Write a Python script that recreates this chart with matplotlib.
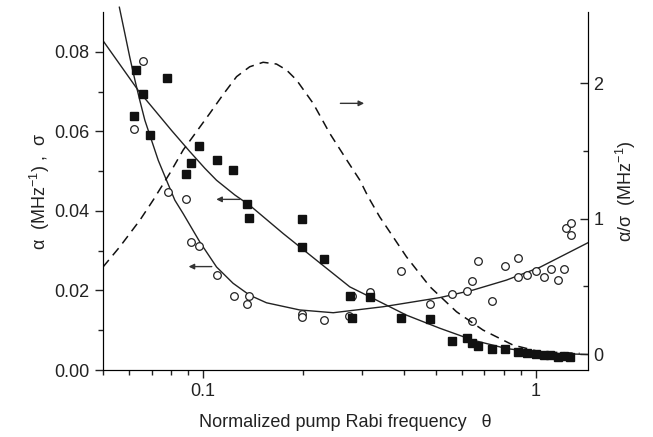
import numpy as np
import matplotlib
matplotlib.use("Agg")
import matplotlib.pyplot as plt
from matplotlib.ticker import NullFormatter

plt.rcParams["font.family"] = ["Liberation Sans", "DejaVu Sans"]
plt.rcParams["mathtext.fontset"] = "custom"
plt.rcParams["mathtext.rm"] = "Liberation Sans"
plt.rcParams["mathtext.it"] = "Liberation Sans:italic"

# sigma (open circles), left axis
theta_sig = [0.0660, 0.0627, 0.0618, 0.0660, 0.0691, 0.0782, 0.0887, 0.0917, 0.0971,
             0.1101, 0.1234, 0.1372, 0.1353, 0.1979, 0.1979, 0.2309, 0.2739, 0.280,
             0.318, 0.394, 0.482, 0.558, 0.621, 0.644, 0.644, 0.670, 0.738, 0.805,
             0.881, 0.881, 0.942, 1.002, 1.054, 1.112, 1.164, 1.213, 1.228, 1.271, 1.271]
sig = [0.0776, 0.0753, 0.0605, 0.0693, 0.0592, 0.0448, 0.0430, 0.0322, 0.0311,
       0.0240, 0.0187, 0.0187, 0.0166, 0.0142, 0.0134, 0.0126, 0.0136, 0.0186,
       0.0195, 0.0250, 0.0166, 0.0190, 0.0199, 0.0224, 0.0122, 0.0274, 0.0173, 0.0261,
       0.0282, 0.0233, 0.0238, 0.0248, 0.0234, 0.0253, 0.0226, 0.0253, 0.0357, 0.0370, 0.0339]

# alpha (filled squares), left axis
theta_alp = [0.0627, 0.0780, 0.0660, 0.0618, 0.0691, 0.0971, 0.0917, 0.1101, 0.0885,
             0.123, 0.1353, 0.1372, 0.1979, 0.1979, 0.2309, 0.2758, 0.280, 0.318,
             0.394, 0.482, 0.558, 0.621, 0.644, 0.669, 0.738, 0.805, 0.881, 0.942,
             1.002, 1.054, 1.099, 1.164, 1.213, 1.262]
alp = [0.0753, 0.0735, 0.0693, 0.0639, 0.0592, 0.0562, 0.0520, 0.0527, 0.0494,
       0.0502, 0.0417, 0.0381, 0.0379, 0.0308, 0.0278, 0.0186, 0.0130, 0.0184,
       0.0131, 0.0129, 0.0072, 0.0081, 0.0067, 0.0061, 0.0052, 0.0052, 0.0046, 0.0043,
       0.0040, 0.0038, 0.0038, 0.0033, 0.0035, 0.0032]

# fitted curves
fit_sig_x = [0.0560, 0.0582, 0.0602, 0.0624, 0.0645, 0.0668, 0.0700, 0.0733, 0.0776,
             0.0822, 0.0871, 0.0977, 0.1097, 0.123, 0.138, 0.155, 0.195, 0.246,
             0.2573, 0.347, 0.514, 0.647, 0.815, 1.026, 1.433]
fit_sig_y = [0.0912, 0.0845, 0.0786, 0.0728, 0.0678, 0.0628, 0.0577, 0.0527, 0.0477,
             0.0427, 0.0393, 0.0322, 0.0259, 0.0218, 0.0188, 0.0169, 0.0151, 0.0144,
             0.0146, 0.0159, 0.0182, 0.0201, 0.0226, 0.0258, 0.0320]
fit_alp_x = [0.0501, 0.0638, 0.0804, 0.0910, 0.1012, 0.1097, 0.1245, 0.138, 0.174,
             0.219, 0.2758, 0.324, 0.408, 0.514, 0.647, 0.815, 1.026, 1.433]
fit_alp_y = [0.0827, 0.0703, 0.0602, 0.0550, 0.0507, 0.0477, 0.0440, 0.0414, 0.0343,
             0.0276, 0.0209, 0.0180, 0.0138, 0.0105, 0.0075, 0.0054, 0.0043, 0.0039]

# ratio alpha/sigma, right axis
ratio_x = [0.050, 0.0562, 0.0646, 0.0708, 0.0794, 0.0871, 0.0955, 0.1047, 0.1148,
           0.126, 0.138, 0.1514, 0.1661, 0.178, 0.1908, 0.214, 0.240, 0.270, 0.2955,
           0.313, 0.339, 0.408, 0.480, 0.577, 0.693, 0.853, 1.026, 1.352]
ratio_y = [0.642, 0.792, 0.989, 1.137, 1.334, 1.506, 1.641, 1.776, 1.915,
           2.047, 2.120, 2.153, 2.140, 2.096, 2.022, 1.850, 1.629, 1.432, 1.284,
           1.161, 1.013, 0.718, 0.497, 0.312, 0.177, 0.066, 0.017, 0.005]

fig = plt.figure(figsize=(6.53, 4.37), dpi=100)
ax = fig.add_axes([0.1577, 0.1533, 0.7432, 0.8192])
ax2 = ax.twinx()
ax.set_xscale("log")
ax.set_xlim(0.05, 1.436)
ax.set_ylim(0, 0.09)

ax.plot(fit_sig_x, fit_sig_y, "-", color="#222222", lw=1.0, clip_on=False)
ax.plot(fit_alp_x, fit_alp_y, "-", color="#222222", lw=1.0)
ax.plot(theta_sig, sig, "o", ms=5.5, mfc="white", mec="#222222", mew=0.9, zorder=3)
ax.plot(theta_alp, alp, "s", ms=6.0, color="#111111", zorder=4)

ax.annotate("", xy=(0.0887, 0.0260), xytext=(0.1082, 0.0260),
            arrowprops=dict(arrowstyle="-|>", color="#333333", lw=1.0, mutation_scale=8))
ax.annotate("", xy=(0.1074, 0.0429), xytext=(0.1313, 0.0429),
            arrowprops=dict(arrowstyle="-|>", color="#333333", lw=1.0, mutation_scale=8))

ax.set_yticks([0, 0.02, 0.04, 0.06, 0.08])
ax.set_yticklabels(["0.00", "0.02", "0.04", "0.06", "0.08"])
ax.set_yticks([0.01, 0.03, 0.05, 0.07], minor=True)
ax.tick_params(which="both", direction="out", labelsize=13, color="#222222",
               labelcolor="#222222", top=False, right=False)
ax.tick_params(which="major", length=6, width=1)
ax.tick_params(which="minor", length=3.5, width=1)
ax.spines["top"].set_visible(False)
for s in ["left", "bottom", "right"]:
    ax.spines[s].set_color("#222222")
ax.set_xlabel("Normalized pump Rabi frequency   θ", fontsize=13, color="#222222",
              labelpad=10)
ax.set_ylabel("α  (MHz$^{-1}$) ,  σ", fontsize=13, color="#222222", labelpad=2)

ax2.set_ylim(-0.118, 2.524)
ax2.plot(ratio_x, ratio_y, "--", color="#111111", lw=1.1, dashes=(6, 4))
ax2.annotate("", xy=(0.3105, 1.85), xytext=(0.2535, 1.85),
             arrowprops=dict(arrowstyle="-|>", color="#333333", lw=1.0, mutation_scale=8))
ax2.set_yticks([0, 1, 2])
ax2.set_yticks([0.5, 1.5], minor=True)
ax2.tick_params(which="both", direction="in", labelsize=13, color="#222222",
                labelcolor="#222222")
ax2.tick_params(which="major", length=6, width=1)
ax2.tick_params(which="minor", length=3.5, width=1)
ax2.spines["top"].set_visible(False)
ax2.set_ylabel("α/σ  (MHz$^{-1}$)", fontsize=13, color="#222222", labelpad=8)

ax.set_xticks([0.1, 1])
ax.set_xticklabels(["0.1", "1"])
ax.xaxis.set_minor_formatter(NullFormatter())

fig.savefig("out.png", dpi=100)
